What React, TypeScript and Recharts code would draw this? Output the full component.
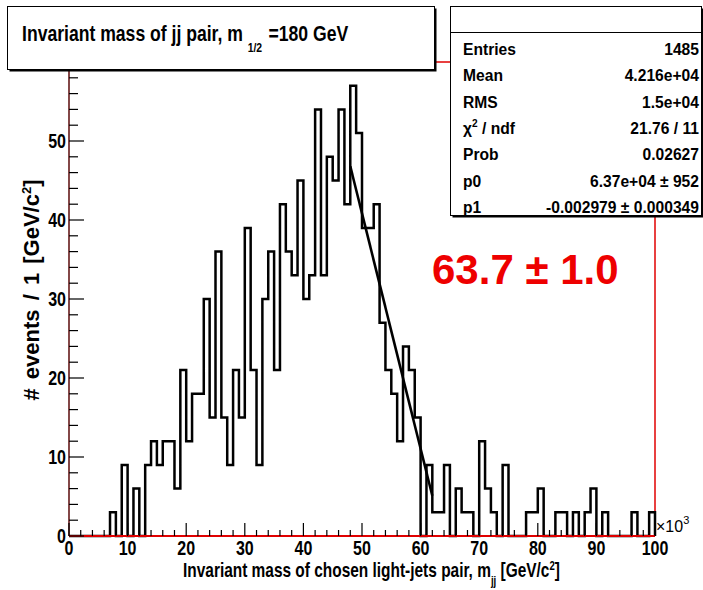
import React from 'react';
import { ComposedChart, Line, XAxis, YAxis, ReferenceLine, Label } from 'recharts';

// Histogram of m_jj: 100 bins of width 1 (x10^3 MeV) from 0 to 100
const binLowEdges = [
  0, 1, 2, 3, 4, 5, 6, 7, 8, 9, 10, 11, 12, 13, 14, 15, 16, 17, 18, 19,
  20, 21, 22, 23, 24, 25, 26, 27, 28, 29, 30, 31, 32, 33, 34, 35, 36, 37, 38, 39,
  40, 41, 42, 43, 44, 45, 46, 47, 48, 49, 50, 51, 52, 53, 54, 55, 56, 57, 58, 59,
  60, 61, 62, 63, 64, 65, 66, 67, 68, 69, 70, 71, 72, 73, 74, 75, 76, 77, 78, 79,
  80, 81, 82, 83, 84, 85, 86, 87, 88, 89, 90, 91, 92, 93, 94, 95, 96, 97, 98, 99,
];
const binCounts = [
  0, 0, 0, 0, 0, 0, 0, 3, 0, 9,
  0, 6, 0, 9, 12, 9, 12, 12, 6, 21,
  12, 18, 18, 30, 15, 36, 15, 9, 21, 15,
  39, 21, 9, 30, 36, 21, 42, 36, 33, 45,
  30, 33, 54, 33, 48, 45, 54, 42, 57, 51,
  39, 39, 42, 27, 21, 18, 12, 24, 21, 15,
  0, 9, 3, 3, 9, 0, 6, 3, 3, 0,
  12, 6, 3, 0, 9, 0, 0, 0, 3, 3,
  6, 0, 0, 3, 3, 0, 3, 0, 3, 6,
  0, 3, 0, 0, 0, 0, 3, 0, 0, 3,
];
const xUpperEdge = 100;

// Linear fit over the falling edge
const fitX = [48, 62];
const fitY = [46.8, 5.1];

const xTicks = [
  0, 2, 4, 6, 8, 10, 12, 14, 16, 18, 20, 22, 24, 26, 28, 30, 32, 34, 36, 38, 40,
  42, 44, 46, 48, 50, 52, 54, 56, 58, 60, 62, 64, 66, 68, 70, 72, 74, 76, 78, 80,
  82, 84, 86, 88, 90, 92, 94, 96, 98, 100,
];
const yTicks = [
  0, 2, 4, 6, 8, 10, 12, 14, 16, 18, 20, 22, 24, 26, 28, 30, 32, 34, 36, 38, 40,
  42, 44, 46, 48, 50, 52, 54, 56, 58,
];

const statRows = [
  ['Entries', '1485'],
  ['Mean', '4.216e+04'],
  ['RMS', '1.5e+04'],
  ['chi2', '21.76 / 11'],
  ['Prob', '0.02627'],
  ['p0', '6.37e+04 \u00b1 952'],
  ['p1', '-0.002979 \u00b1 0.000349'],
];
const resultText = '63.7 \u00b1 1.0';

const histData = [
  ...binLowEdges.map((x, i) => ({ x, n: binCounts[i] })),
  { x: xUpperEdge, n: 0 },
];
const fitData = fitX.map((x, i) => ({ x, f: fitY[i] }));

const SANS = "'Liberation Sans', Arial, Helvetica, sans-serif";
const NARROW_SCALE = 0.8;

const XTick = (props: any) => {
  const { x, y, payload } = props;
  const v = payload.value;
  const major = v % 10 === 0;
  return (
    <g>
      <line x1={x} x2={x} y1={y} y2={y - (major ? 13 : 6)} stroke="#000" strokeWidth={1.2} />
      {major && (
        <text
          transform={`translate(${x} ${y + 19}) scale(${NARROW_SCALE} 1)`}
          textAnchor="middle"
          fontFamily={SANS}
          fontWeight="bold"
          fontSize={20}
          fill="#000"
        >
          {v}
        </text>
      )}
    </g>
  );
};

const YTick = (props: any) => {
  const { x, y, payload } = props;
  const v = payload.value;
  const major = v % 10 === 0;
  return (
    <g>
      <line x1={x} x2={x + (major ? 15 : 9)} y1={y} y2={y} stroke="#000" strokeWidth={1.2} />
      {major && (
        <text
          transform={`translate(${x - 3} ${y + 7}) scale(${NARROW_SCALE} 1)`}
          textAnchor="end"
          fontFamily={SANS}
          fontWeight="bold"
          fontSize={20}
          fill="#000"
        >
          {v}
        </text>
      )}
    </g>
  );
};

export default function App() {
  return (
    <div style={{ position: 'fixed', left: 0, top: 0, width: 703, height: 590, background: '#fff', overflow: 'hidden' }}>
      <ComposedChart
        width={703}
        height={590}
        data={histData}
        margin={{ top: 62, right: 48, bottom: 24, left: 0 }}
      >
        <XAxis
          type="number"
          dataKey="x"
          domain={[0, 100]}
          ticks={xTicks}
          interval={0}
          tick={<XTick />}
          tickSize={0}
          tickMargin={0}
          tickLine={false}
          axisLine={{ stroke: '#e00000', strokeWidth: 2 }}
          height={30}
        >
          <Label
            content={() => (
              <text
                transform={`translate(183 577) scale(${NARROW_SCALE} 1)`}
                fontFamily={SANS}
                fontWeight="bold"
                fontSize={19.3}
                fill="#000"
              >
                Invariant mass of chosen light-jets pair, m
                <tspan fontSize={12} dy={8}>jj</tspan>
                <tspan dy={-8}> [GeV/c</tspan>
                <tspan fontSize={12} dy={-7}>2</tspan>
                <tspan dy={7}>]</tspan>
              </text>
            )}
          />
        </XAxis>
        <YAxis
          type="number"
          domain={[0, 60]}
          ticks={yTicks}
          interval={0}
          tick={<YTick />}
          tickSize={0}
          tickMargin={0}
          tickLine={false}
          axisLine={{ stroke: '#5a0a0a', strokeWidth: 1.5 }}
          width={69}
        >
          <Label
            content={() => (
              <text
                transform="translate(39 290) rotate(-90)"
                textAnchor="middle"
                fontFamily={SANS}
                fontWeight="bold"
                fontSize={22}
                wordSpacing={3}
                fill="#000"
              >
                # events / 1 [GeV/c
                <tspan fontSize={13} dy={-8}>2</tspan>
                <tspan dy={8}>]</tspan>
              </text>
            )}
          />
        </YAxis>
        <ReferenceLine x={100} stroke="#e00000" strokeWidth={1.5} ifOverflow="extendDomain" />
        <ReferenceLine y={60} stroke="#e00000" strokeWidth={1.5} />
        <Line
          type="stepAfter"
          dataKey="n"
          stroke="#000"
          strokeWidth={2.5}
          dot={false}
          isAnimationActive={false}
        />
        <Line
          data={fitData}
          type="linear"
          dataKey="f"
          stroke="#000"
          strokeWidth={2.6}
          dot={false}
          isAnimationActive={false}
        />
      </ComposedChart>

      <svg
        width={703}
        height={590}
        style={{ position: 'absolute', left: 0, top: 0, pointerEvents: 'none' }}
        fontFamily={SANS}
      >
        {/* x10^3 exponent of the x axis */}
        <text x={656} y={532} fontSize={16} fill="#000">
          {'\u00d710'}
          <tspan fontSize={11} dy={-8}>3</tspan>
        </text>

        {/* fitted value */}
        <text x={432} y={284} fontSize={42} fontWeight="bold" fill="#ee0000">
          {resultText}
        </text>

        {/* title box */}
        <rect x={9.5} y={8.5} width={427} height={63} fill="#000" />
        <rect x={7.5} y={6.5} width={427} height={63} fill="#fff" stroke="#000" strokeWidth={1} />
        <text
          transform={`translate(22 41) scale(${NARROW_SCALE} 1)`}
          fontWeight="bold"
          fontSize={22}
          fill="#000"
        >
          Invariant mass of jj pair, m
          <tspan fontSize={13} dx={6} dy={11}>1/2</tspan>
          <tspan dx={8} dy={-11}>=180 GeV</tspan>
        </text>

        {/* statistics box */}
        <rect x={452.5} y={8.5} width={251} height={209} fill="#000" />
        <rect x={450.5} y={6.5} width={251} height={209} fill="#fff" stroke="#000" strokeWidth={1} />
        <line x1={450.5} x2={701.5} y1={32.5} y2={32.5} stroke="#000" strokeWidth={1} />
        <g fontWeight="bold" fontSize={17} fill="#000">
          {statRows.map(([k, v], i) => {
            const yb = 55 + i * 26.3;
            return (
              <g key={k}>
                <text transform={`translate(463 ${yb}) scale(0.92 1)`}>
                  {k === 'chi2' ? (
                    <>
                      {'\u03c7'}
                      <tspan fontSize={11} dy={-7}>2</tspan>
                      <tspan dy={7}>{' / ndf'}</tspan>
                    </>
                  ) : (
                    k
                  )}
                </text>
                <text transform={`translate(699 ${yb}) scale(0.92 1)`} textAnchor="end">
                  {v}
                </text>
              </g>
            );
          })}
        </g>
      </svg>
    </div>
  );
}
